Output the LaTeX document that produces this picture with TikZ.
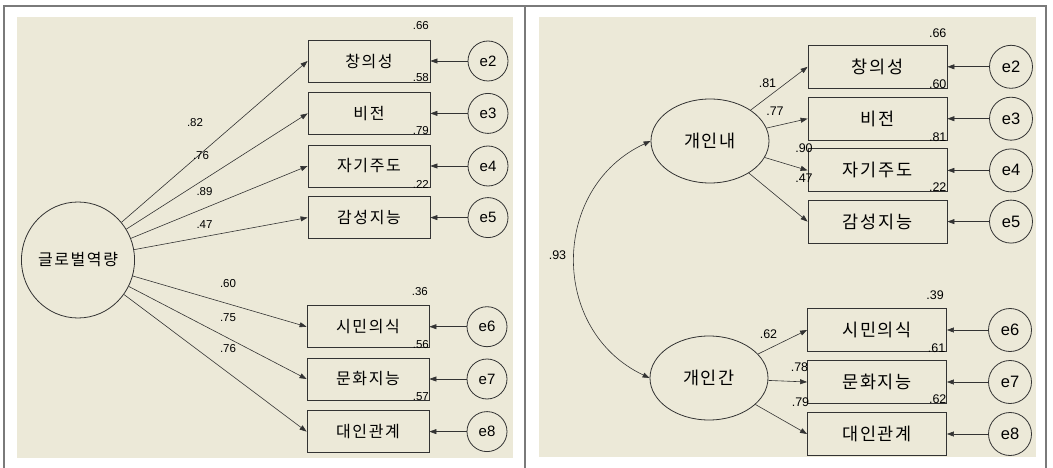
\documentclass[tikz,border=0pt]{standalone}
\usepackage{fontspec}
\setmainfont{Liberation Sans}
\newfontfamily\krfont[LetterSpace=10]{Noto Sans CJK KR}
\usetikzlibrary{arrows.meta,shapes.geometric}
\definecolor{bg}{HTML}{ECE9D8}
\definecolor{ln}{HTML}{333333}
\definecolor{framec}{HTML}{7A7A7A}
\begin{document}
\begin{tikzpicture}[x=1pt,y=-1pt,
  obs/.style={draw=ln, line width=0.8pt, rectangle, minimum width=122pt, minimum height=42pt, inner sep=0pt, font=\krfont\fontsize{16}{16}\selectfont},
  obsR/.style={obs, minimum width=139pt, minimum height=43pt, font=\krfont\fontsize{17.5}{17.5}\selectfont},
  err/.style={draw=ln, line width=0.8pt, circle, minimum size=40pt, inner sep=0pt, font=\fontsize{15}{15}\selectfont},
  errR/.style={err, minimum size=43pt, font=\fontsize{16.5}{16.5}\selectfont},
  lat/.style={draw=ln, line width=0.8pt, ellipse, inner sep=0pt, font=\krfont\fontsize{16}{16}\selectfont},
  latR/.style={lat, minimum width=118pt, minimum height=84pt, font=\krfont\fontsize{17.5}{17.5}\selectfont},
  arr/.style={draw=ln, line width=0.6pt, -{Triangle[length=7pt,width=5pt]}},
  num/.style={inner sep=0pt, font=\fontsize{11.5}{11.5}\selectfont},
  numR/.style={inner sep=0pt, font=\fontsize{12.5}{12.5}\selectfont}
]
\useasboundingbox (0,0) rectangle (1053,468);
\fill[white] (0,0) rectangle (1053,468);
\fill[bg] (17,17) rectangle (513,458);
\fill[bg] (539,17) rectangle (1036,457);
\draw[framec, line width=1.5pt] (4,468) -- (4,6) -- (1046,6) -- (1046,468);
\draw[framec, line width=1.5pt] (525,6) -- (525,468);

% ---------- left panel ----------
\node[lat, minimum width=104pt, minimum height=116pt] (G) at (78,260) {글로벌역량};
\node[obs] (L1) at (369,61) {창의성};
\node[obs] (L2) at (369,113.4) {비전};
\node[obs] (L3) at (369,166) {자기주도};
\node[obs] (L4) at (369,217.6) {감성지능};
\node[obs] (L5) at (368,326.7) {시민의식};
\node[obs] (L6) at (368,379) {문화지능};
\node[obs] (L7) at (368,431.6) {대인관계};
\node[err] (le2) at (488,61) {e2};
\node[err] (le3) at (488,113.4) {e3};
\node[err] (le4) at (488,166) {e4};
\node[err] (le5) at (488,217.6) {e5};
\node[err] (le6) at (487,326.7) {e6};
\node[err] (le7) at (487,379) {e7};
\node[err] (le8) at (487,431.6) {e8};
\foreach \b in {1,...,7} {\draw[arr] (G) -- (L\b.west);}
\foreach \b/\e in {1/2,2/3,3/4,4/5,5/6,6/7,7/8} {\draw[arr] (le\e) -- (L\b);}
\node[num] (lw1) at (195,122.5) {.82};
\node[num] (lw2) at (201,156) {.76};
\node[num] (lw3) at (204.5,192) {.89};
\node[num] (lw4) at (204.5,225) {.47};
\node[num] (lw5) at (228,284) {.60};
\node[num] (lw6) at (228,318) {.75};
\node[num] (lw7) at (228,349) {.76};
\node[num, anchor=east] (lr1) at (429,26) {.66};
\node[num, anchor=east] (lr2) at (429,78) {.58};
\node[num, anchor=east] (lr3) at (429,131) {.79};
\node[num, anchor=east] (lr4) at (429,184) {.22};
\node[num, anchor=east] (lr5) at (428,291.5) {.36};
\node[num, anchor=east] (lr6) at (429,345) {.56};
\node[num, anchor=east] (lr7) at (429,396.7) {.57};

% ---------- right panel ----------
\node[latR] (A) at (710,141) {개인내};
\node[latR] (B) at (709,378) {개인간};
\node[obsR] (R1) at (877.5,66.8) {창의성};
\node[obsR] (R2) at (877.5,118.7) {비전};
\node[obsR] (R3) at (877.5,170.4) {자기주도};
\node[obsR] (R4) at (877.5,221.6) {감성지능};
\node[obsR] (R5) at (877,330) {시민의식};
\node[obsR] (R6) at (877,382) {문화지능};
\node[obsR] (R7) at (877,434) {대인관계};
\node[errR] (re2) at (1011,66.8) {e2};
\node[errR] (re3) at (1011,118.7) {e3};
\node[errR] (re4) at (1011,170.4) {e4};
\node[errR] (re5) at (1011,221.6) {e5};
\node[errR] (re6) at (1010,330) {e6};
\node[errR] (re7) at (1010,382) {e7};
\node[errR] (re8) at (1010,434) {e8};
\foreach \b in {1,...,4} {\draw[arr] (A) -- (R\b.west);}
\foreach \b in {5,6,7} {\draw[arr] (B) -- (R\b.west);}
\foreach \b/\e in {1/2,2/3,3/4,4/5,5/6,6/7,7/8} {\draw[arr] (re\e) -- (R\b);}
\draw[draw=ln, line width=0.6pt, {Triangle[length=7pt,width=5pt]}-{Triangle[length=7pt,width=5pt]}]
  (A.west) .. controls (550.4,187.5) and (549.4,330.7) .. (B.west);
\node[numR] (cor) at (557.5,255) {.93};
\node[numR] (rw1) at (767.5,82.8) {.81};
\node[numR] (rw2) at (775,111) {.77};
\node[numR] (rw3) at (804,148.5) {.90};
\node[numR] (rw4) at (804,178.5) {.47};
\node[numR] (rw5) at (768.5,333.8) {.62};
\node[numR] (rw6) at (799.5,367) {.78};
\node[numR] (rw7) at (800.5,402.4) {.79};
\node[numR, anchor=east] (rr1) at (946.6,32.8) {.66};
\node[numR, anchor=east] (rr2) at (946.6,84.5) {.60};
\node[numR, anchor=east] (rr3) at (946.6,137) {.81};
\node[numR, anchor=east] (rr4) at (946.6,187.6) {.22};
\node[numR, anchor=east] (rr5) at (944,295) {.39};
\node[numR, anchor=east] (rr6) at (945.5,348.3) {.61};
\node[numR, anchor=east] (rr7) at (946.6,399) {.62};
\end{tikzpicture}
\end{document}
